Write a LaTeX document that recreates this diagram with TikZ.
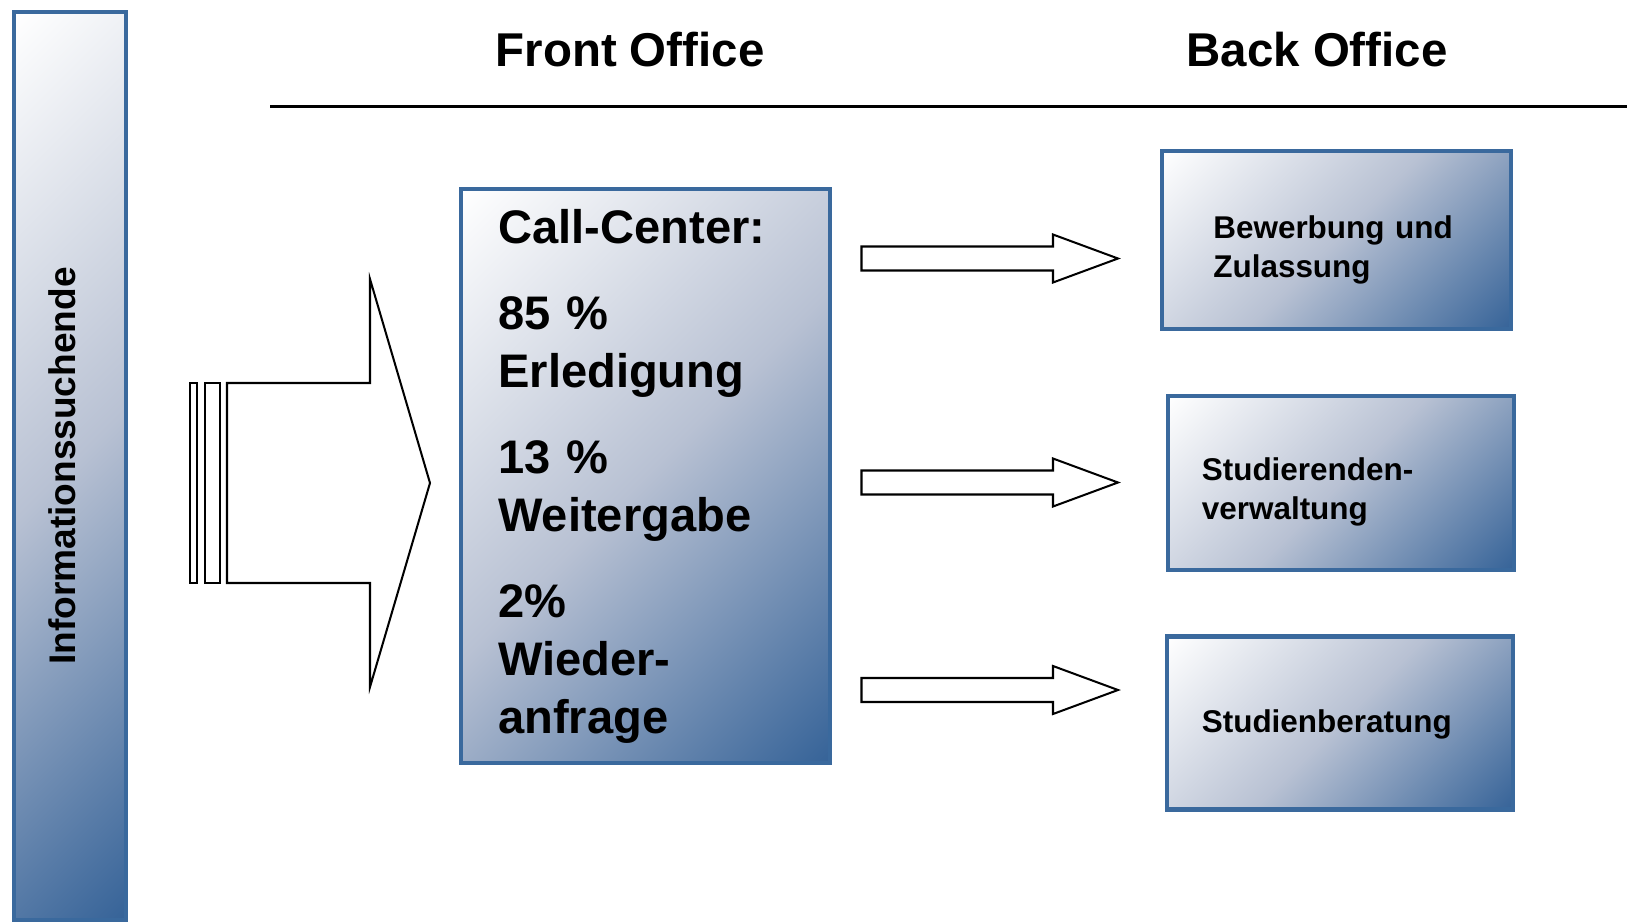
\documentclass[tikz,border=0pt]{standalone}
\usepackage{fontspec}
\setmainfont{Liberation Sans}
\usetikzlibrary{positioning}

\definecolor{officeblue}{RGB}{58,105,157}
\definecolor{shadedark}{RGB}{54,99,152}
\definecolor{shademid}{RGB}{184,193,211}
\pgfdeclareverticalshading{officeshade}{100bp}{color(0bp)=(shadedark); color(14.6bp)=(shadedark); color(50bp)=(shademid); color(85.4bp)=(white); color(100bp)=(white)}

\tikzset{
    officebox/.style={draw=officeblue, line width=2.6pt, shade, shading=officeshade, shading angle=45, inner sep=0pt},
    arrowline/.style={draw=black, line width=1.15pt, fill=white, line join=miter},
    titletext/.style={font=\fontsize{27}{32}\selectfont\bfseries, inner sep=0pt},
    calltext/.style={font=\fontsize{26.8}{33}\selectfont\bfseries, text width=8cm, align=left, inner sep=0pt, anchor=base west},
    boxtext/.style={font=\fontsize{17.9}{22.2}\selectfont\bfseries, text width=6cm, align=left, inner sep=0pt, anchor=base west},
    pics/blockarrow/.style={code={
        \draw[arrowline] (0,-12) -- (191.5,-12) -- (191.5,-24) -- (256.5,0) -- (191.5,24) -- (191.5,12) -- (0,12) -- cycle;
    }}
}

\begin{document}
\begin{tikzpicture}[x=0.02cm, y=-0.02cm]
    \useasboundingbox (0,0) rectangle (1627,923);

    % Informationssuchende
    \node[officebox, minimum width=2.24cm, minimum height=18.16cm] (seekers) at (70,466) {};
    \node[font=\fontsize{21.1}{25}\selectfont\bfseries, rotate=90, inner sep=0pt] (seekerslabel) at (62,466) {Informationssuchende};

    % headings
    \node[titletext] (front) at (630,50) {Front Office};
    \node[titletext] (back) at (1317,50) {Back Office};
    \draw[line width=1.15pt] (270,106.5) -- (1627,106.5);

    % big arrow with stripes
    \draw[arrowline] (190,383) rectangle (197,583);
    \draw[arrowline] (205,383) rectangle (220,583);
    \draw[arrowline] (227,383) -- (370,383) -- (370,279) -- (430,483) -- (370,687) -- (370,583) -- (227,583) -- cycle;

    % front office
    \node[officebox, minimum width=7.38cm, minimum height=11.48cm] (callcenter) at (645.5,476) {};
    \node[calltext] (calllabel) at (498,243.5) {Call-Center:\\[15.9pt]
        85 \%\\ Erledigung\\[15.9pt]
        13 \%\\ Weitergabe\\[15.9pt]
        2\%\\ Wieder-\\ anfrage};

    % arrows to back office
    \pic (toadmission) at (861.5,258.5) {blockarrow};
    \pic (toadmin) at (861.5,482.5) {blockarrow};
    \pic (toadvice) at (861.5,690) {blockarrow};

    % back office
    \node[officebox, minimum width=6.98cm, minimum height=3.56cm] (admission) at (1336.5,240) {};
    \node[boxtext] (admissionlabel) at (1213,238) {Bewerbung und\\ Zulassung};
    \node[officebox, minimum width=6.92cm, minimum height=3.48cm] (admin) at (1341,483) {};
    \node[boxtext] (adminlabel) at (1201.5,480) {Studierenden-\\ verwaltung};
    \node[officebox, minimum width=6.92cm, minimum height=3.45cm] (advice) at (1340,723) {};
    \node[boxtext] (advicelabel) at (1201.5,732) {Studienberatung};
\end{tikzpicture}
\end{document}
